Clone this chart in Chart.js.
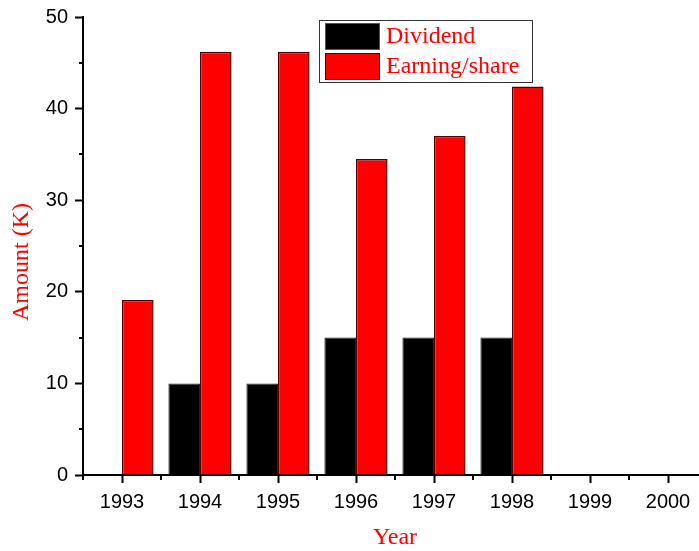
<!DOCTYPE html>
<html>
<head>
<meta charset="utf-8">
<script src="https://cdn.jsdelivr.net/npm/chart.js@4/dist/chart.umd.min.js"></script>
<style>
  html, body { margin: 0; padding: 0; overflow: hidden; background: #fff; }
  #wrap { width: 699px; height: 551px; overflow: hidden; }
  canvas { display: block; }
</style>
</head>
<body>
<div id="wrap"><canvas id="c" width="720" height="551"></canvas></div>
<script>
// Yearly amounts (thousands)
const years = ['1993', '1994', '1995', '1996', '1997', '1998', '1999', '2000'];
const dividend = [null, 10, 10, 15, 15, 15, null, null];
const earningPerShare = [19.1, 46.2, 46.2, 34.5, 37.0, 42.4, null, null];
const yTicks = [0, 10, 20, 30, 40, 50];

const seriesNames = ['Dividend', 'Earning/share'];

const serifFont = '24px "Liberation Serif", "Times New Roman", serif';

// Minor ticks, axis titles and the boxed legend
const decorations = {
  id: 'decorations',
  afterDraw(chart) {
    const ctx = chart.ctx;
    const xs = chart.scales.x;
    const ys = chart.scales.y;
    const area = chart.chartArea;
    ctx.save();
    ctx.strokeStyle = '#000';
    ctx.lineWidth = 2;
    // minor y ticks halfway between labelled ticks
    for (let i = 0; i < yTicks.length - 1; i++) {
      const v = (yTicks[i] + yTicks[i + 1]) / 2;
      const py = Math.round(ys.getPixelForValue(v));
      ctx.beginPath();
      ctx.moveTo(area.left - 4, py);
      ctx.lineTo(area.left, py);
      ctx.stroke();
    }
    // minor x ticks at category boundaries
    const step = xs.getPixelForValue(1) - xs.getPixelForValue(0);
    for (let i = 0; i <= years.length; i++) {
      const px = Math.round(xs.getPixelForValue(i) - step / 2);
      ctx.beginPath();
      ctx.moveTo(px, area.bottom);
      ctx.lineTo(px, area.bottom + 5);
      ctx.stroke();
    }

    // axis titles
    ctx.fillStyle = '#ff0000';
    ctx.font = serifFont;
    ctx.textAlign = 'center';
    ctx.textBaseline = 'middle';
    ctx.fillText('Year', (area.left + area.right) / 2, 538);
    ctx.save();
    ctx.translate(22, 262);
    ctx.rotate(-Math.PI / 2);
    ctx.fillText('Amount (K)', 0, 0);
    ctx.restore();

    // legend box
    const lx = 319.5, ly = 20.5, lw = 213, lh = 62;
    ctx.fillStyle = '#fff';
    ctx.fillRect(lx, ly, lw, lh);
    ctx.lineWidth = 1;
    ctx.strokeStyle = '#333';
    ctx.strokeRect(lx, ly, lw, lh);
    chart.data.datasets.forEach((ds, i) => {
      const sy = 23 + i * 30;
      ctx.fillStyle = ds.backgroundColor;
      ctx.fillRect(325, sy, 55, 27);
      ctx.strokeStyle = i === 0 ? '#555' : '#550000';
      ctx.lineWidth = 1;
      ctx.strokeRect(325.5, sy + 0.5, 54, 26);
      ctx.fillStyle = '#ff0000';
      ctx.textAlign = 'left';
      ctx.font = serifFont;
      ctx.fillText(ds.label, 386, sy + 14);
    });
    ctx.restore();
  }
};

new Chart(document.getElementById('c'), {
  type: 'bar',
  data: {
    labels: years,
    datasets: [
      {
        label: seriesNames[0],
        data: dividend,
        backgroundColor: '#000000',
        borderColor: '#222222',
        borderWidth: 1,
        categoryPercentage: 0.81,
        barPercentage: 1.0
      },
      {
        label: seriesNames[1],
        data: earningPerShare,
        backgroundColor: '#ff0000',
        borderColor: '#550000',
        borderWidth: 1.5,
        categoryPercentage: 0.81,
        barPercentage: 1.0
      }
    ]
  },
  options: {
    responsive: false,
    animation: false,
    events: [],
    layout: { padding: { top: 17, right: 13, left: 0, bottom: 0 } },
    plugins: {
      legend: { display: false },
      tooltip: { enabled: false }
    },
    scales: {
      x: {
        offset: true,
        afterFit(scale) {
          scale.height = 76;
          scale.paddingLeft = 0;
          scale.paddingRight = 0;
        },
        grid: {
          offset: false,
          drawOnChartArea: false,
          drawTicks: true,
          tickLength: 8,
          tickWidth: 2,
          tickColor: '#000'
        },
        border: { display: true, color: '#000', width: 2 },
        ticks: {
          color: '#000',
          padding: 7,
          maxRotation: 0,
          autoSkip: false,
          font: { family: '"Liberation Sans", Arial, sans-serif', size: 20 }
        }
      },
      y: {
        min: 0,
        max: 50,
        afterFit(scale) {
          scale.width = 83;
          scale.paddingTop = 0;
          scale.paddingBottom = 0;
        },
        afterBuildTicks(scale) { scale.ticks = yTicks.map(v => ({ value: v })); },
        grid: {
          drawOnChartArea: false,
          drawTicks: true,
          tickLength: 8,
          tickWidth: 2,
          tickColor: '#000'
        },
        border: { display: true, color: '#000', width: 2 },
        ticks: {
          color: '#000',
          padding: 7,
          font: { family: '"Liberation Sans", Arial, sans-serif', size: 20 }
        }
      }
    }
  },
  plugins: [decorations]
});
</script>
</body>
</html>
